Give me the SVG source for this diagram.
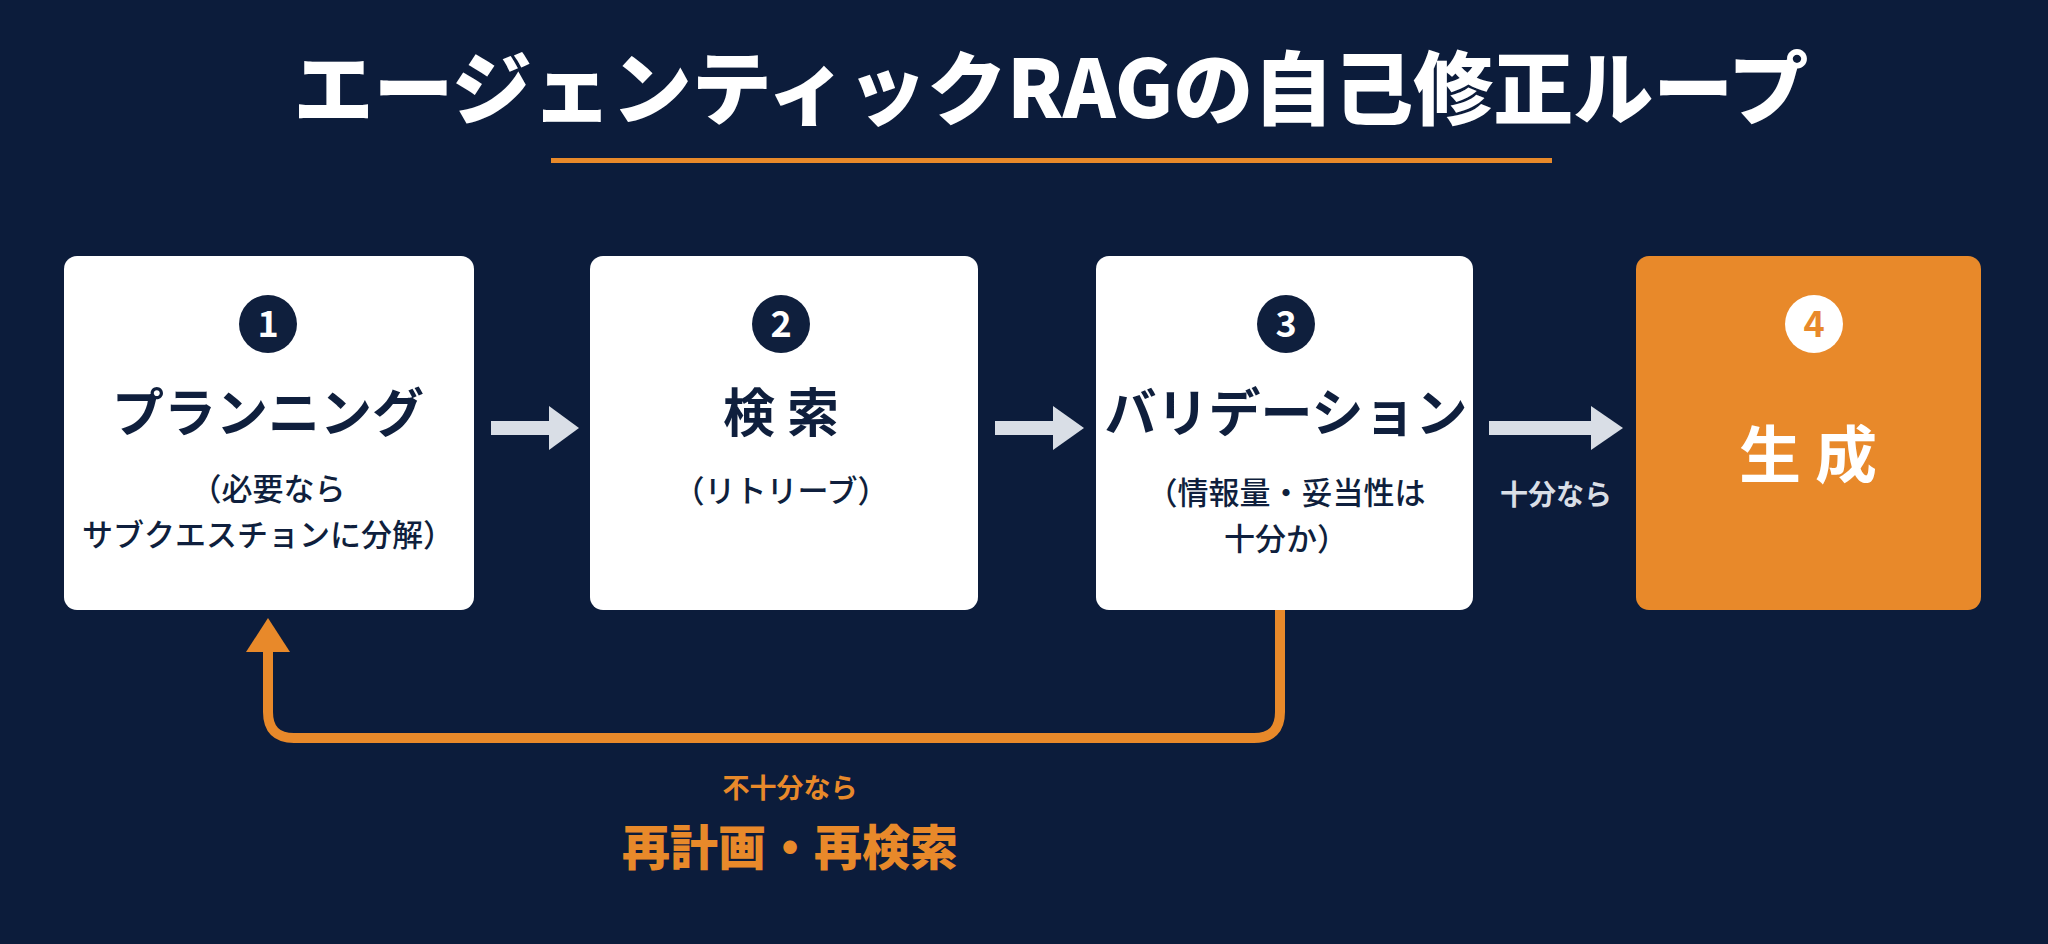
<svg xmlns="http://www.w3.org/2000/svg" width="2048" height="944" viewBox="0 0 2048 944">
<style>
text{font-family:"Noto Sans CJK JP","Noto Sans",sans-serif;text-anchor:middle}
.box{fill:#ffffff}
.t{font-size:52px;font-weight:700;fill:#0f1f3d}
.s{font-size:31px;font-weight:500;fill:#0f1f3d}
.num{font-size:36px;font-weight:700;fill:#ffffff}
.g{fill:#d9dee6}
</style>
<defs>
<marker id="ah" markerWidth="4" markerHeight="4" refX="2" refY="2" orient="auto" markerUnits="strokeWidth"><path d="M0,0 L4,2 L0,4 z" fill="#e8892a"/></marker>
</defs>
<rect width="2048" height="944" fill="#0c1c3b"/>
<g id="title">
<text x="1051" y="118" style="font-size:80px;font-weight:900;fill:#fff">エージェンティックRAGの自己修正ループ</text>
<rect x="551" y="158" width="1001" height="5" fill="#e8892a"/>
</g>
<g id="n1"><rect class="box" x="64" y="256" width="410" height="354" rx="13"/>
<circle cx="268" cy="324" r="29" fill="#0f1f3d"/><text class="num" x="268" y="337">1</text>
<text class="t" x="268" y="432">プランニング</text>
<text class="s" x="268" y="500">（必要なら</text><text class="s" x="268" y="546">サブクエスチョンに分解）</text></g>
<g id="n2"><rect class="box" x="590" y="256" width="388" height="354" rx="13"/>
<circle cx="781" cy="324" r="29" fill="#0f1f3d"/><text class="num" x="781" y="337">2</text>
<text class="t" x="781" y="432">検 索</text>
<text class="s" x="781" y="502">（リトリーブ）</text></g>
<g id="n3"><rect class="box" x="1096" y="256" width="377" height="354" rx="13"/>
<circle cx="1286" cy="324" r="29" fill="#0f1f3d"/><text class="num" x="1286" y="337">3</text>
<text class="t" x="1286" y="432">バリデーション</text>
<text class="s" x="1286" y="504">（情報量・妥当性は</text><text class="s" x="1286" y="550">十分か）</text></g>
<g id="n4"><rect x="1636" y="256" width="345" height="354" rx="13" fill="#e8892a"/>
<circle cx="1814" cy="324" r="29" fill="#ffffff"/><text class="num" x="1814" y="337" style="fill:#e8892a">4</text>
<text x="1808" y="478" style="font-size:62px;font-weight:700;fill:#fff">生 成</text></g>
<g id="connectors">
<rect class="g" x="491" y="421" width="60" height="14"/><path class="g" d="M549,406 L579,428 L549,450 z"/>
<rect class="g" x="995" y="421" width="60" height="14"/><path class="g" d="M1053,406 L1084,428 L1053,450 z"/>
<rect class="g" x="1489" y="421" width="104" height="14"/><path class="g" d="M1591,406 L1623,428 L1591,450 z"/>
<text x="1556" y="505" style="font-size:28px;font-weight:700;fill:#d9dee6">十分なら</text>
<path d="M1280,610 V712 Q1280,738 1254,738 H294 Q268,738 268,712 V650" fill="none" stroke="#e8892a" stroke-width="10"/>
<path d="M268,618 L290,652 L246,652 z" fill="#e8892a"/>
<text x="790" y="798" style="font-size:27px;font-weight:700;fill:#e8892a">不十分なら</text>
<text x="790" y="865" style="font-size:48px;font-weight:900;fill:#e8892a">再計画・再検索</text>
</g>
</svg>
